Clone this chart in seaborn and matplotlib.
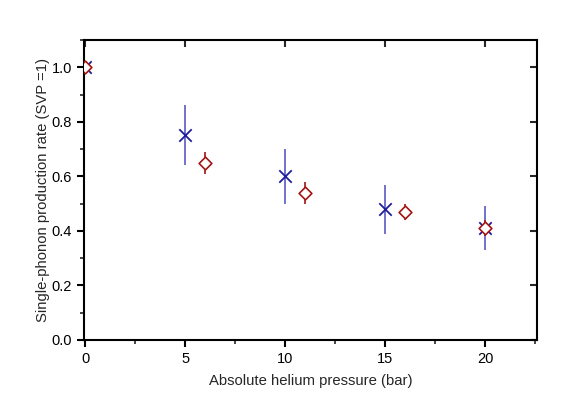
import matplotlib
matplotlib.use("Agg")
import matplotlib.pyplot as plt
import pandas as pd
import seaborn as sns
from matplotlib.ticker import MultipleLocator

# values
pressure_x = [0, 5, 10, 15, 20]
rate_x = [1.0, 0.75, 0.60, 0.48, 0.41]
err_x = [0.0, 0.11, 0.10, 0.09, 0.08]

pressure_d = [0, 6, 11, 16, 20]
rate_d = [1.0, 0.65, 0.54, 0.47, 0.41]
err_d = [0.0, 0.04, 0.04, 0.03, 0.03]

blue = "#1f1f9a"
red = "#a31515"

sns.set_style("ticks")
plt.rcParams["font.family"] = ["Liberation Sans", "DejaVu Sans"]

df_x = pd.DataFrame({"p": pressure_x, "r": rate_x})
df_d = pd.DataFrame({"p": pressure_d, "r": rate_d})

fig = plt.figure(figsize=(5.81, 4.13), dpi=100)
ax = fig.add_axes([0.1446, 0.1768, 0.9243 - 0.1446, 0.9031 - 0.1768])

ax.errorbar(pressure_x, rate_x, yerr=err_x, fmt="none", ecolor="#5a5ac4", elinewidth=1.2, capsize=0)
ax.errorbar(pressure_d, rate_d, yerr=err_d, fmt="none", ecolor=red, elinewidth=1.2, capsize=0)
sns.scatterplot(data=df_x, x="p", y="r", marker="x", s=80, color=blue, linewidth=1.3, ax=ax, zorder=3)
sns.scatterplot(data=df_d, x="p", y="r", marker="D", s=42, facecolor="white", edgecolor=red,
                linewidth=1.2, ax=ax, zorder=4)

ax.set_xlim(-0.07, 22.6)
ax.set_ylim(0, 1.1)
ax.xaxis.set_major_locator(MultipleLocator(5))
ax.xaxis.set_minor_locator(MultipleLocator(2.5))
ax.yaxis.set_major_locator(MultipleLocator(0.2))
ax.yaxis.set_minor_locator(MultipleLocator(0.1))
ax.set_yticklabels([f"{v:.1f}" for v in ax.get_yticks()])

ax.tick_params(which="major", direction="out", length=5, width=1.5, labelsize=10.5, colors="black")
ax.tick_params(which="minor", direction="out", length=3, width=1.2)
for s in ax.spines.values():
    s.set_linewidth(1.5)
    s.set_color("black")

# inward major ticks on top and right
top = ax.secondary_xaxis("top")
top.xaxis.set_major_locator(MultipleLocator(5))
top.tick_params(direction="in", length=5, width=1.5, labeltop=False)
top.spines["top"].set_visible(False)
right = ax.secondary_yaxis("right")
right.yaxis.set_major_locator(MultipleLocator(0.2))
right.tick_params(direction="in", length=5, width=1.5, labelright=False)
right.spines["right"].set_visible(False)

ax.set_xlabel("Absolute helium pressure (bar)", fontsize=10.7, labelpad=6)
ax.set_ylabel("Single-phonon production rate (SVP =1)", fontsize=10.7, labelpad=1)

fig.savefig("out.png", dpi=100)
